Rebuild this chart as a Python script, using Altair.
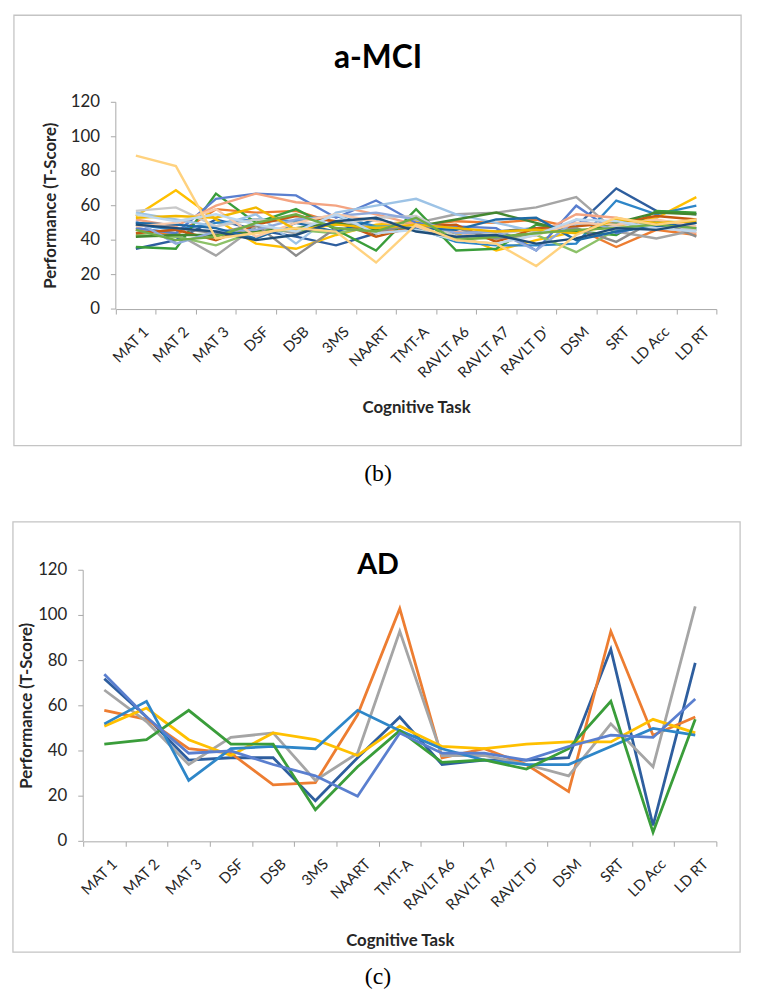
import altair as alt
import pandas as pd

tasks = ["MAT 1", "MAT 2", "MAT 3", "DSF", "DSB", "3MS", "NAART", "TMT-A",
         "RAVLT A6", "RAVLT A7", "RAVLT D'", "DSM", "SRT", "LD Acc", "LD RT"]

# ---- a-MCI participants (T-scores) ----
mci_s01 = [35, 40, 52, 46, 42, 37, 44, 49, 44, 45, 47, 48, 70, 57, 55]
mci_s02 = [46, 43, 58, 56, 57, 50, 44, 48, 51, 50, 52, 47, 36, 46, 43]
mci_s03 = [47, 44, 31, 48, 44, 50, 48, 50, 55, 56, 59, 65, 45, 41, 46]
mci_s04 = [54, 69, 52, 38, 35, 43, 49, 51, 44, 34, 40, 45, 48, 53, 65]
mci_s05 = [49, 46, 50, 52, 51, 54, 48, 47, 39, 37, 37, 38, 63, 55, 60]
mci_s06 = [36, 35, 67, 50, 58, 46, 34, 58, 34, 35, 49, 45, 43, 57, 56]
mci_s07 = [47, 44, 64, 67, 66, 53, 63, 50, 48, 47, 34, 60, 44, 50, 47]
mci_s08 = [52, 48, 60, 67, 62, 60, 55, 49, 45, 40, 43, 55, 53, 48, 44]
mci_s10 = [56, 52, 48, 55, 38, 56, 60, 64, 55, 50, 45, 49, 50, 47, 46]
mci_s11 = [43, 42, 37, 45, 46, 44, 48, 47, 41, 41, 43, 33, 46, 51, 50]
mci_s12 = [57, 59, 48, 52, 50, 49, 53, 54, 42, 44, 46, 50, 48, 47, 46]
mci_s13 = [44, 46, 40, 49, 54, 51, 42, 48, 49, 39, 47, 48, 50, 54, 52]
mci_s14 = [42, 43, 43, 45, 47, 50, 46, 48, 52, 56, 50, 44, 50, 56, 55]
mci_s15 = [50, 47, 44, 49, 31, 47, 45, 49, 47, 41, 44, 47, 39, 52, 42]
mci_s16 = [51, 38, 45, 46, 52, 54, 56, 52, 44, 45, 34, 52, 46, 49, 50]
mci_s17 = [50, 49, 47, 41, 50, 45, 52, 47, 46, 52, 53, 40, 45, 48, 50]
mci_s18 = [48, 50, 58, 42, 50, 55, 51, 48, 40, 38, 43, 50, 49, 52, 48]
mci_s19 = [53, 54, 53, 59, 46, 49, 47, 49, 47, 45, 46, 44, 52, 50, 51]
mci_s20 = [55, 51, 55, 49, 45, 55, 44, 46, 40, 38, 43, 52, 51, 47, 45]
mci_s21 = [46, 40, 42, 50, 55, 47, 45, 53, 40, 42, 44, 46, 47, 49, 47]
mci_s22 = [49, 47, 45, 40, 43, 51, 53, 45, 42, 43, 38, 41, 47, 46, 50]
mci_s09 = [89, 83, 41, 44, 47, 45, 27, 49, 40, 38, 25, 43, 53, 49, 52]

mci_names = ["P01", "P02", "P03", "P04", "P05", "P06", "P07", "P08", "P10", "P11",
             "P12", "P13", "P14", "P15", "P16", "P17", "P18", "P19", "P20", "P21",
             "P22", "P09"]
mci_series = [mci_s01, mci_s02, mci_s03, mci_s04, mci_s05, mci_s06, mci_s07, mci_s08,
              mci_s10, mci_s11, mci_s12, mci_s13, mci_s14, mci_s15, mci_s16, mci_s17,
              mci_s18, mci_s19, mci_s20, mci_s21, mci_s22, mci_s09]
mci_colors = ["#2E5E9E", "#ED7D31", "#A5A5A5", "#FFC000", "#2E86C8", "#3A9D3A",
              "#5A7FCF", "#F4A482", "#9DC3E6", "#8CC168", "#C9C9C9", "#C55A11",
              "#43872F", "#8C8C8C", "#8FAADC", "#1F6AA5", "#F8C8A8", "#F2B800",
              "#BDD7EE", "#70AD47", "#1F4E79", "#FFD27F"]

# ---- AD participants ----
ad_blue = [72, 55, 36, 37, 37, 18, 37, 55, 34, 36, 36, 37, 85, 7, 79]
ad_orange = [58, 54, 41, 39, 25, 26, 56, 103, 37, 41, 34, 22, 93, 47, 55]
ad_gray = [67, 53, 34, 46, 48, 27, 39, 93, 38, 38, 34, 29, 52, 33, 104]
ad_gold = [51, 59, 45, 38, 48, 45, 38, 51, 42, 41, 43, 44, 44, 54, 48]
ad_cyan = [52, 62, 27, 41, 42, 41, 58, 49, 41, 36, 34, 34, 42, 50, 47]
ad_green = [43, 45, 58, 43, 43, 14, 33, 49, 35, 36, 32, 41, 62, 4, 54]
ad_lavender = [74, 55, 39, 40, 34, 29, 20, 48, 39, 39, 36, 42, 47, 46, 63]

ad_names = ["A1", "A2", "A3", "A4", "A5", "A6", "A7"]
ad_series = [ad_blue, ad_orange, ad_gray, ad_gold, ad_cyan, ad_green, ad_lavender]
ad_colors = ["#2E6DB8", "#ED7D31", "#A5A5A5", "#FFB900", "#2E95D3", "#3A9D3A", "#8FAADC"]

y_ticks = [0, 20, 40, 60, 80, 100, 120]

FONT = "Lato"
AXIS_GRAY = "#A8A8A8"
FRAME_GRAY = "#C4C4C4"
TEXT = "#262626"
Y_TITLE = "Performance (T-Score)"


def long_df(names, series):
    rows = []
    for n, vals in zip(names, series):
        for i, (t, v) in enumerate(zip(tasks, vals)):
            rows.append({"series": n, "task": t, "idx": i, "value": v})
    return pd.DataFrame(rows)


def yscale():
    return alt.Scale(domain=[0, 120], nice=False)


def panel(names, series, colors, x_range, H, title, title_size, caption, frame,
          title_pos, caption_pos, ytitle_x, stroke_w):
    df = long_df(names, series)
    ax_x = x_range[0]  # pixel position of the y axis line inside the group
    lines = alt.Chart(df).mark_line(strokeWidth=stroke_w).encode(
        x=alt.X("task:N", sort=tasks, bandPosition=0.5,
                scale=alt.Scale(type="band", paddingInner=0, paddingOuter=0,
                                range=x_range),
                axis=alt.Axis(title="Cognitive Task", labelAngle=-45,
                              labelAlign="right", labelBaseline="top",
                              labelFont=FONT, labelFontSize=15, labelColor=TEXT,
                              labelPadding=10, labelOffset=5, labelOverlap=False,
                              tickBand="extent", tickSize=5, tickColor=AXIS_GRAY,
                              domainColor=AXIS_GRAY, grid=False,
                              titleFont=FONT, titleFontSize=17, titleFontWeight="bold",
                              titleColor=TEXT, titleX=(x_range[0] + x_range[1]) / 2,
                              titleY=100, titleBaseline="middle")),
        y=alt.Y("value:Q", scale=yscale(), axis=None),
        color=alt.Color("series:N", scale=alt.Scale(domain=names, range=colors),
                        legend=None),
        order=alt.Order("idx:Q"),
    )
    fx, fx2, fy, fy2 = frame
    frame_mark = alt.Chart(alt.Data(values=[{}])).mark_rect(
        filled=False, stroke=FRAME_GRAY, strokeWidth=1.3
    ).encode(x=alt.value(fx), x2=alt.value(fx2), y=alt.value(fy), y2=alt.value(fy2))
    tick_df = pd.DataFrame({"v": y_ticks})
    dom = alt.Chart(alt.Data(values=[{}])).mark_rule(
        color=AXIS_GRAY, strokeWidth=1
    ).encode(x=alt.value(ax_x), y=alt.value(0), y2=alt.value(H))
    ticks = alt.Chart(tick_df).mark_rule(color=AXIS_GRAY, strokeWidth=1).encode(
        y=alt.Y("v:Q", scale=yscale(), axis=None),
        x=alt.value(ax_x - 5), x2=alt.value(ax_x))
    labels = alt.Chart(tick_df).mark_text(
        font=FONT, fontSize=17, color=TEXT, align="right", baseline="middle"
    ).encode(y=alt.Y("v:Q", scale=yscale(), axis=None),
             x=alt.value(ax_x - 16), text="v:Q")
    ytitle = alt.Chart(alt.Data(values=[{"t": Y_TITLE}])).mark_text(
        font=FONT, fontSize=17, fontWeight="bold", color=TEXT, angle=270,
        align="center", baseline="middle"
    ).encode(x=alt.value(ax_x + ytitle_x), y=alt.value(H / 2), text="t:N")
    title_mark = alt.Chart(alt.Data(values=[{"t": title}])).mark_text(
        font=FONT, fontSize=title_size, fontWeight="bold", color="#000000",
        align="center", baseline="middle"
    ).encode(x=alt.value(title_pos[0]), y=alt.value(title_pos[1]), text="t:N")
    cap_mark = alt.Chart(alt.Data(values=[{"t": caption}])).mark_text(
        font="Liberation Serif", fontSize=24, color="#000000",
        align="center", baseline="middle"
    ).encode(x=alt.value(caption_pos[0]), y=alt.value(caption_pos[1]), text="t:N")
    return alt.layer(frame_mark, dom, ticks, labels, ytitle, lines, title_mark,
                     cap_mark).properties(width=x_range[1], height=H)


# both panels share the group origin at the top panel's plot origin (x=115 on page);
# the AD panel's plot area starts 33px further left (x=82 on page)
top = panel(mci_names, mci_series, mci_colors, [0, 607], 209, "a-MCI", 32, "(b)",
            (-103, 632, -88, 347), (265, -45), (265, 376), -65, 2.4)
bottom = panel(ad_names, ad_series, ad_colors, [-33, 607], 274, "AD", 29, "(c)",
               (-104, 631, -49, 386), (265, -5), (265, 411), -57, 2.8)

chart = alt.vconcat(top, bottom, spacing=33).properties(
    padding={"left": 3, "top": 0, "right": 0, "bottom": 0}
).configure_view(stroke="transparent")

chart.save("out.html", embed_options={"renderer": "svg", "actions": False})
